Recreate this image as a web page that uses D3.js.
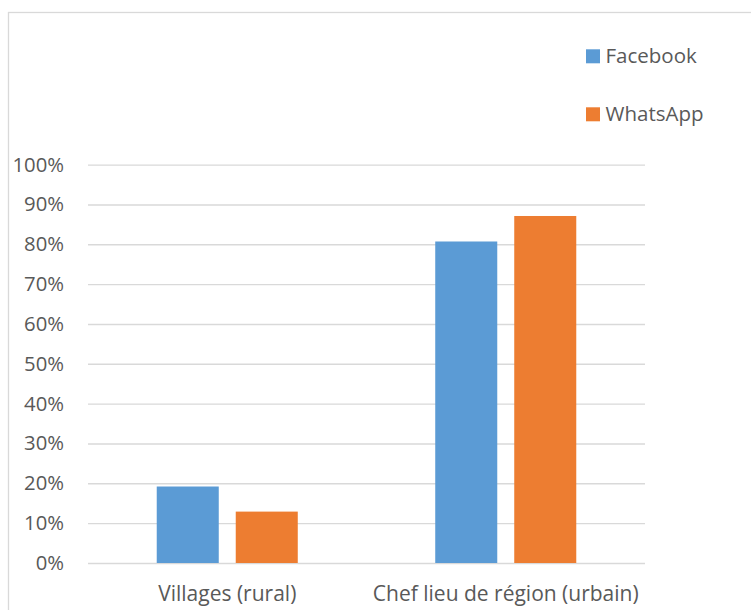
<!DOCTYPE html>
<html><head><meta charset="utf-8">
<script src="https://cdn.jsdelivr.net/npm/d3@7"></script>
<style>
html,body{margin:0;padding:0;background:#fff;}
svg{display:block;}
text{font-family:"Open Sans",sans-serif;fill:#595959;}
</style></head>
<body>
<svg id="chart" width="751" height="610"></svg>
<script>
const categories = ["Villages (rural)", "Chef lieu de région (urbain)"];
const seriesNames = ["Facebook", "WhatsApp"];
const facebook = [0.192, 0.807];
const whatsapp = [0.129, 0.871];
const yTicks = [0, 0.1, 0.2, 0.3, 0.4, 0.5, 0.6, 0.7, 0.8, 0.9, 1.0];
const colors = ["#5b9bd5", "#ed7d31"];

const seriesValues = [facebook, whatsapp];
const svg = d3.select("#chart");

// chart border
svg.append("rect").attr("x", 8.5).attr("y", 12.5).attr("width", 800).attr("height", 700)
  .attr("fill", "none").attr("stroke", "#d9d9d9").attr("stroke-width", 1.3);

const plotLeft = 88, plotRight = 645, plotTop = 164.6, plotBottom = 563;
const y = d3.scaleLinear().domain([0, 1]).range([plotBottom, plotTop]);
const x0 = d3.scaleBand().domain(categories).range([plotLeft, plotRight]).padding(0);
const x1 = d3.scaleBand().domain(seriesNames).range([0, x0.bandwidth()])
  .paddingInner(0.215).paddingOuter(0.87);

// y axis with gridlines
const yAxis = d3.axisLeft(y).tickValues(yTicks).tickFormat(d3.format(".0%"))
  .tickSize(-(plotRight - plotLeft)).tickPadding(24);
const gy = svg.append("g").attr("transform", `translate(${plotLeft},0)`).call(yAxis);
gy.select(".domain").remove();
gy.selectAll(".tick line").attr("stroke", "#d9d9d9").attr("stroke-width", 1.4);
gy.selectAll(".tick text").attr("font-size", "20.3px").attr("fill", "#595959")
  .style("font-family", "'Open Sans',sans-serif");

// bars
const data = [];
categories.forEach((c, i) => seriesNames.forEach((s, j) => data.push({c, s, v: seriesValues[j][i], j})));
svg.append("g").selectAll("rect").data(data).join("rect")
  .attr("x", d => x0(d.c) + x1(d.s))
  .attr("y", d => y(d.v))
  .attr("width", x1.bandwidth())
  .attr("height", d => y(0) - y(d.v))
  .attr("fill", d => colors[d.j]);

// x axis
const xAxis = d3.axisBottom(x0).tickSize(0).tickPadding(0);
const gx = svg.append("g").attr("transform", `translate(0,${plotBottom})`).call(xAxis);
gx.select(".domain").remove();
gx.selectAll(".tick text").attr("y", 38).attr("dy", 0).attr("font-size", "21px")
  .attr("fill", "#595959").style("font-family", "'Open Sans',sans-serif");

// legend
const legendY = [49.3, 107.3];
const lg = svg.append("g");
seriesNames.forEach((s, j) => {
  lg.append("rect").attr("x", 586).attr("y", legendY[j]).attr("width", 14).attr("height", 14)
    .attr("fill", colors[j]);
  lg.append("text").attr("x", 605.5).attr("y", legendY[j] + 14).attr("font-size", "20.5px")
    .text(s);
});
</script>
</body></html>
